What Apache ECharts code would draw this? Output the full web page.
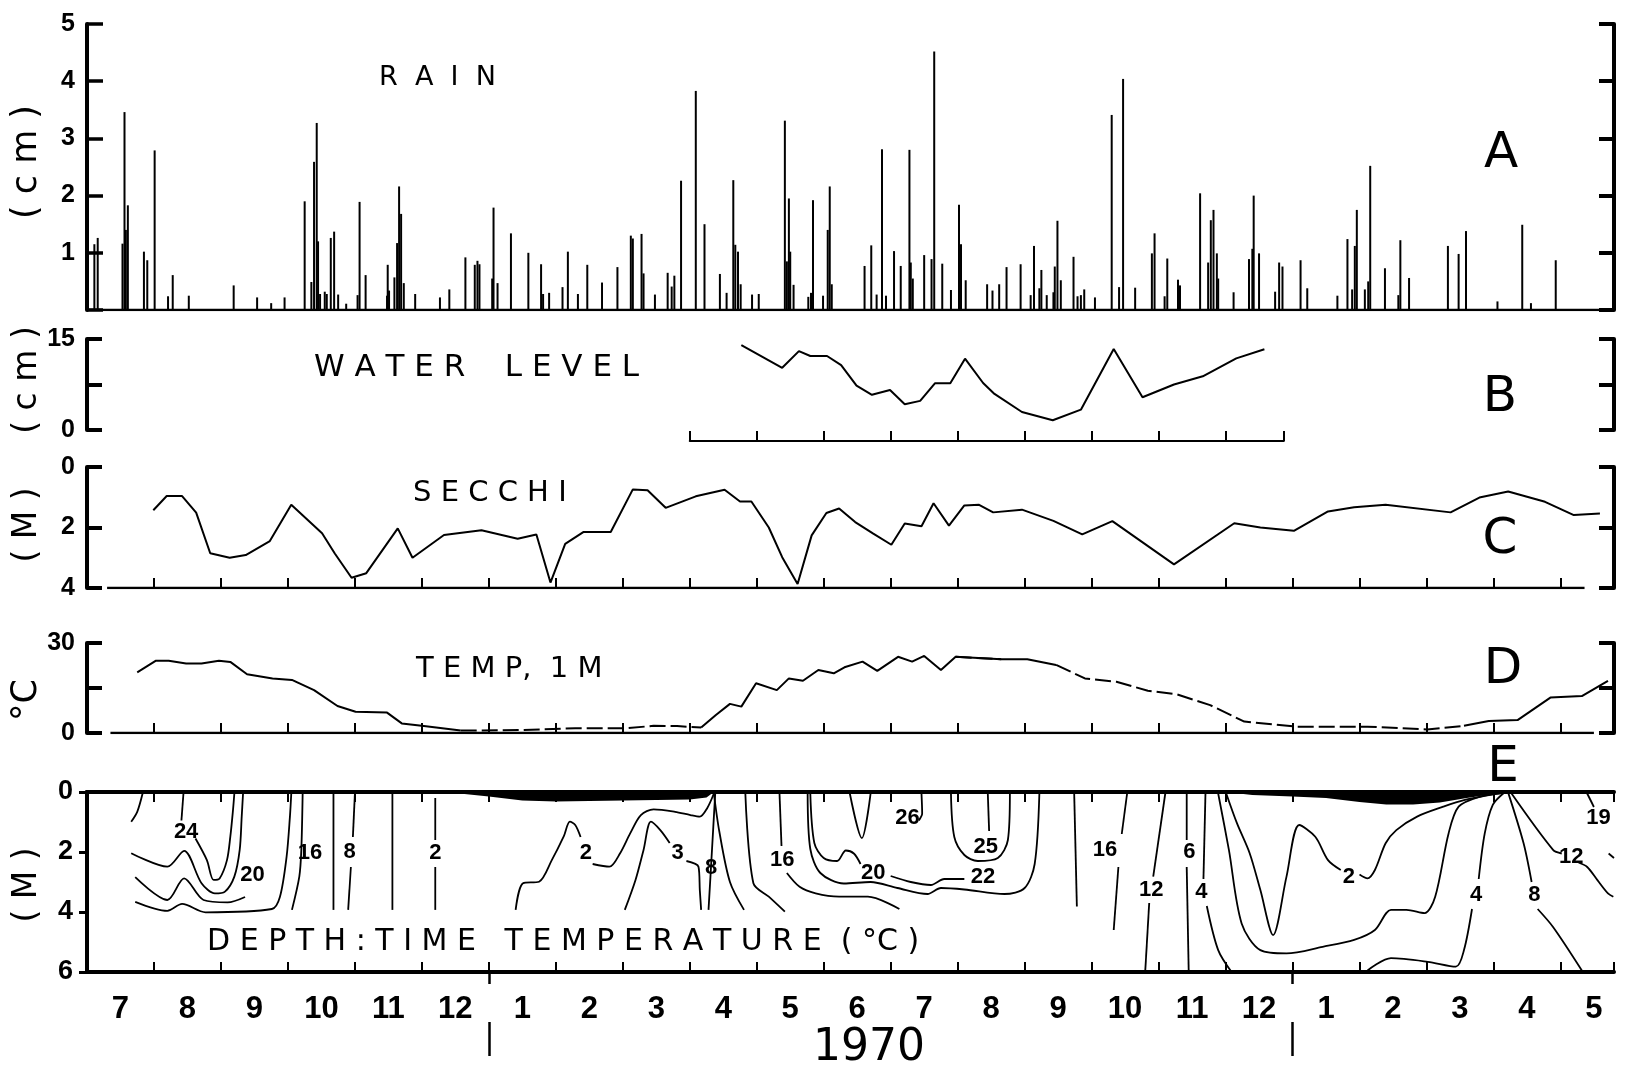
<!DOCTYPE html>
<html>
<head>
<meta charset="utf-8">
<script src="https://cdn.jsdelivr.net/npm/echarts@6/dist/echarts.min.js"></script>
<style>
html, body { margin: 0; padding: 0; background: #fff; }
#chart { width: 1628px; height: 1074px; }
</style>
</head>
<body>
<div id="chart"></div>
<script>
// Time is measured in months elapsed since 1 July 1969.
const monthLabels = ['7','8','9','10','11','12','1','2','3','4','5','6','7','8','9','10','11','12','1','2','3','4','5'];
const yearStarts = [6, 18];

// A: daily rain (cm)
const rainT = [0.11,0.16,0.53,0.56,0.58,0.61,0.85,0.90,1.01,1.21,1.28,1.52,2.19,2.54,2.75,2.95,3.25,3.35,3.39,3.43,3.45,3.48,3.55,3.58,3.64,3.69,3.75,3.87,4.04,4.07,4.16,4.48,4.49,4.51,4.59,4.63,4.66,4.69,4.73,4.90,5.27,5.41,5.65,5.79,5.83,5.86,6.05,6.07,6.13,6.33,6.59,6.78,6.81,6.90,7.10,7.18,7.33,7.47,7.69,7.92,8.12,8.15,8.28,8.31,8.48,8.67,8.73,8.77,8.87,9.09,9.22,9.45,9.55,9.65,9.68,9.72,9.76,9.93,10.03,10.42,10.45,10.48,10.50,10.55,10.77,10.81,10.84,10.99,11.06,11.09,11.12,11.61,11.71,11.79,11.87,11.93,12.05,12.15,12.28,12.30,12.33,12.50,12.61,12.65,12.77,12.90,13.02,13.05,13.12,13.44,13.52,13.62,13.73,13.94,14.09,14.14,14.22,14.25,14.33,14.43,14.45,14.49,14.54,14.73,14.79,14.84,14.89,15.05,15.30,15.41,15.47,15.65,15.90,15.94,16.09,16.13,16.29,16.32,16.62,16.74,16.78,16.82,16.87,16.89,17.12,17.35,17.40,17.42,17.50,17.74,17.80,17.85,18.12,18.22,18.67,18.82,18.89,18.93,18.96,19.08,19.13,19.16,19.38,19.58,19.61,19.74,20.32,20.48,20.59,21.06,21.43,21.56,21.93];
const rainCm = [1.15,1.26,1.16,3.46,1.40,1.83,1.02,0.87,2.79,0.24,0.61,0.25,0.43,0.22,0.12,0.22,1.90,0.49,2.59,3.27,1.20,0.28,0.32,0.28,1.26,1.37,0.27,0.11,0.26,1.89,0.61,0.25,0.79,0.34,0.57,1.17,2.16,1.68,0.47,0.28,0.22,0.36,0.92,0.79,0.86,0.80,0.55,1.79,0.47,1.34,1.00,0.80,0.28,0.30,0.40,1.02,0.28,0.79,0.48,0.75,1.30,1.25,1.33,0.64,0.27,0.65,0.41,0.60,2.26,3.83,1.50,0.63,0.30,2.27,1.14,1.02,0.45,0.27,0.28,3.31,0.85,1.95,1.02,0.44,0.23,0.30,1.92,0.25,1.40,2.16,0.45,0.77,1.13,0.27,2.81,0.25,1.03,0.77,2.80,0.83,0.55,0.96,0.89,4.52,0.81,0.35,1.84,1.15,0.52,0.45,0.34,0.45,0.75,0.80,0.26,1.12,0.38,0.70,0.26,0.31,0.76,1.56,0.52,0.93,0.24,0.26,0.36,0.22,3.41,0.40,4.04,0.39,0.99,1.34,0.24,0.90,0.53,0.43,2.04,0.83,1.57,1.75,0.99,0.55,0.31,0.89,1.07,2.00,0.99,0.32,0.83,0.76,0.87,0.38,0.25,1.24,0.36,1.12,1.75,0.36,0.50,2.52,0.73,0.26,1.22,0.56,1.12,0.98,1.38,0.15,1.49,0.12,0.87];

// B: water level (cm), gauge record period
const wlT  = [9.77,10.38,10.63,10.80,11.05,11.26,11.49,11.72,11.99,12.21,12.44,12.66,12.89,13.11,13.38,13.55,13.96,14.42,14.84,15.33,15.76,16.23,16.66,17.16,17.58];
const wlCm = [14.0,10.25,13.0,12.2,12.2,10.7,7.3,5.8,6.6,4.25,4.8,7.7,7.7,11.75,7.75,5.95,2.97,1.6,3.35,13.35,5.4,7.5,8.85,11.8,13.3];
const wlPeriod = [9, 17.87];

// C: Secchi depth (m)
const scT = [0.99,1.19,1.42,1.63,1.84,2.13,2.37,2.73,3.05,3.51,3.70,3.95,4.17,4.64,4.86,5.33,5.89,6.43,6.71,6.92,7.14,7.41,7.82,8.15,8.37,8.64,9.09,9.52,9.75,9.92,10.18,10.38,10.61,10.82,11.04,11.23,11.47,11.74,12.01,12.21,12.46,12.64,12.87,13.10,13.32,13.53,13.96,14.43,14.86,15.31,16.23,17.13,17.52,18.02,18.53,18.92,19.39,20.36,20.79,21.22,21.77,22.20,22.59];
const scM = [1.43,0.96,0.96,1.51,2.85,3.00,2.91,2.45,1.25,2.19,2.86,3.66,3.51,2.03,3.00,2.25,2.09,2.37,2.23,3.82,2.54,2.15,2.15,0.74,0.77,1.35,0.97,0.75,1.14,1.14,2.00,2.98,3.87,2.26,1.52,1.37,1.82,2.20,2.57,1.87,1.96,1.20,1.94,1.27,1.25,1.50,1.41,1.78,2.23,1.79,3.22,1.86,2.00,2.11,1.47,1.33,1.25,1.50,1.01,0.81,1.15,1.59,1.54];

// D: temperature at 1 m (deg C)
const tpT = [0.75,1.03,1.22,1.48,1.71,1.97,2.14,2.39,2.77,3.06,3.39,3.74,4.01,4.48,4.70,5.03,5.58,6.51,7.29,8.07,8.46,8.81,9.17,9.39,9.60,9.77,9.99,10.30,10.48,10.69,10.92,11.15,11.31,11.58,11.80,12.11,12.32,12.50,12.75,12.97,13.65,14.04,14.47,14.90,15.37,15.84,16.27,16.77,17.28,18.06,19.12,20.01,20.56,20.93,21.36,21.85,22.32,22.71];
const tpC = [20.2,24.1,24.1,23.2,23.2,24.1,23.7,19.6,18.2,17.7,14.3,9.0,7.1,6.8,3.2,2.3,0.8,1.0,1.6,1.6,2.4,2.3,1.8,6.0,9.7,8.8,16.6,14.3,18.2,17.4,21.0,19.9,21.9,23.8,20.7,25.4,23.8,25.7,21.0,25.4,24.6,24.6,22.7,18.2,17.1,14.1,12.9,9.3,3.8,2.1,2.1,1.2,2.4,4.0,4.3,11.8,12.3,17.4,19.0];
const tpDashed = [[5.5, 9.2], [12.9, 13.7], [14.4, 20.6]];

// E: ice cover thickness (m)
const ice70T = [5.2,5.6,6.0,6.5,7.0,7.5,8.0,8.5,9.0,9.25,9.36];
const ice70D = [0,0.06,0.15,0.28,0.32,0.30,0.28,0.27,0.25,0.18,0];
const ice71T = [17.0,17.4,18.0,18.5,19.0,19.4,19.8,20.2,20.6,20.9,21.2];
const ice71D = [0,0.10,0.15,0.20,0.33,0.42,0.42,0.35,0.20,0.10,0];

// E: isotherms, [month, depth m]
const iso1969a = [[0.66,0.99],[0.75,0.66],[0.83,0.05]];
const iso1969b = [[1.44,0.05],[1.41,0.95]];
const iso1969c = [[1.62,1.55],[1.79,2.27],[1.89,2.93],[1.98,2.88],[2.09,2.27],[2.14,1.49],[2.18,0.6],[2.2,0.05]];
const iso1969d = [[0.66,2.04],[1.2,2.49],[1.45,1.96],[1.71,3.04],[1.91,3.38],[2.06,3.32],[2.2,2.82],[2.28,1.93],[2.31,0.82],[2.33,0.05]];
const iso1969e = [[0.72,2.84],[1.2,3.6],[1.45,2.88],[1.74,3.6],[2.1,3.68],[2.36,3.5]];
const iso1969f = [[0.72,3.66],[1.2,3.96],[1.42,3.73],[1.77,4.01],[2.76,3.9],[2.88,3.5],[2.98,2.16],[3.03,0.82],[3.05,0.05]];
const iso1969g = [[3.06,3.93],[3.17,2.82],[3.2,1.93],[3.22,0.05]];
const iso1969h = [[3.68,3.93],[3.68,0.05]];
const iso1969i = [[3.9,3.93],[3.94,2.5]];
const iso1969j = [[3.97,1.5],[4.0,0.05]];
const iso1969k = [[4.56,3.93],[4.56,0.05]];
const iso1969l = [[5.2,3.93],[5.2,2.5]];
const iso1969m = [[5.2,1.6],[5.2,0.2]];
const iso1970a = [[6.4,3.93],[6.51,3.04],[6.75,2.99],[6.94,2.27],[7.12,1.47],[7.21,0.99],[7.29,1.1],[7.37,1.5]];
const iso1970b = [[7.55,2.4],[7.8,2.49],[7.96,2.04],[8.11,1.38],[8.27,0.77],[8.46,0.58],[8.78,0.66],[9.01,0.77],[9.15,0.82],[9.26,0.54],[9.36,0.05]];
const iso1970c = [[8.03,3.93],[8.19,2.93],[8.31,1.93],[8.42,0.99],[8.56,1.27],[8.7,1.7]];
const iso1970d = [[8.95,2.3],[9.13,2.49],[9.15,3.27],[9.17,3.93]];
const iso1970e = [[9.28,3.93],[9.33,2.0],[9.38,0.05]];
const iso1970f = [[9.36,0.05],[9.44,1.3],[9.6,3.0],[9.81,3.93]];
const iso1970g = [[9.83,0.05],[9.95,3.04],[10.18,3.49],[10.42,3.99]];
const iso1970h = [[10.34,0.05],[10.37,1.8]];
const iso1970i = [[10.45,2.7],[10.64,3.16],[10.88,3.38],[11.23,3.49],[11.66,3.49],[12.13,3.9]];
const iso1970j = [[10.76,0.05],[10.8,1.9],[10.95,2.7],[11.3,3.05],[11.7,3.0],[12.1,3.2],[12.55,3.4],[12.75,3.2],[13.1,3.25],[13.7,3.4],[14.0,3.2],[14.15,2.4],[14.22,0.05]];
const iso1970k = [[10.8,0.05],[10.86,1.7],[11.0,2.2],[11.2,2.3],[11.33,1.95],[11.45,2.05],[11.55,2.4]];
const iso1970l = [[11.39,0.05],[11.57,1.54],[11.7,0.05]];
const iso1970m = [[12.0,2.8],[12.3,3.0],[12.6,3.1],[12.8,2.9],[13.1,2.9]];
const iso1970n = [[12.9,0.05],[12.95,1.5],[13.1,2.1],[13.3,2.3],[13.6,2.2],[13.75,1.6],[13.78,0.05]];
const iso1970o = [[13.45,0.05],[13.47,1.3]];
const iso1970o2 = [[12.46,0.05],[12.47,0.72],[12.42,0.95]];
const iso1970p = [[14.74,0.05],[14.78,3.82]];
const iso1970q = [[15.53,0.05],[15.45,1.4]];
const iso1970r = [[15.4,2.5],[15.33,4.6]];
const iso1970s = [[16.1,0.05],[15.92,2.82]];
const iso1970t = [[15.86,3.7],[15.8,6.0]];
const iso1970u = [[16.42,0.05],[16.42,1.6]];
const iso1970v = [[16.42,2.5],[16.45,6.0]];
const iso1970w = [[16.7,0.05],[16.67,2.9]];
const iso1970x = [[16.72,3.8],[16.89,5.27],[17.09,6.0]];
const iso1971a = [[17.01,0.05],[17.17,1.04],[17.36,2.04],[17.52,3.27],[17.71,4.77],[17.91,2.82],[18.1,1.1],[18.34,1.49],[18.53,2.27],[18.72,2.6]];
const iso1971b = [[19.0,2.75],[19.12,2.88],[19.23,2.6],[19.39,1.71],[19.55,1.27],[19.86,0.82],[20.25,0.49],[20.56,0.27],[21.11,0.04]];
const iso1971c = [[16.89,0.05],[17.05,1.93],[17.24,4.38],[17.52,5.27],[17.91,5.38],[18.45,5.16],[18.92,4.93],[19.23,4.6],[19.47,3.93],[19.7,3.93],[19.97,4.04],[20.13,3.49],[20.33,1.38],[20.48,0.49],[20.79,0.16],[21.15,0.04]];
const iso1971d = [[19.12,5.95],[19.47,5.54],[20.02,5.66],[20.44,5.82],[20.56,5.27],[20.68,3.9]];
const iso1971e = [[20.78,2.9],[20.87,1.38],[20.99,0.43],[21.15,0.04]];
const iso1971f = [[21.22,0.02],[21.45,1.71],[21.57,3.0]];
const iso1971g = [[21.66,3.9],[21.89,4.5],[22.32,5.95]];
const iso1971h = [[21.26,0.02],[21.89,1.93],[22.02,2.05]];
const iso1971i = [[22.27,2.35],[22.4,2.5],[22.55,2.93],[22.71,3.38],[22.79,3.49]];
const iso1971j = [[22.4,0.05],[22.5,0.5]];
const iso1971k = [[22.72,2.05],[22.8,2.2]];
const isotherms = [iso1969a, iso1969b, iso1969c, iso1969d, iso1969e, iso1969f, iso1969g, iso1969h, iso1969i, iso1969j, iso1969k, iso1969l, iso1969m,
  iso1970a, iso1970b, iso1970c, iso1970d, iso1970e, iso1970f, iso1970g, iso1970h, iso1970i, iso1970j, iso1970k, iso1970l, iso1970m, iso1970n, iso1970o, iso1970o2,
  iso1970p, iso1970q, iso1970r, iso1970s, iso1970t, iso1970u, iso1970v, iso1970w, iso1970x,
  iso1971a, iso1971b, iso1971c, iso1971d, iso1971e, iso1971f, iso1971g, iso1971h, iso1971i, iso1971j, iso1971k];

// E: isotherm values, [month, depth m, deg C]
const isoLabels = [[1.48,1.32,'24'],[2.47,2.77,'20'],[3.33,2.04,'16'],[3.92,2.0,'8'],[5.2,2.04,'2'],
  [7.45,2.04,'2'],[8.82,2.04,'3'],[9.32,2.54,'8'],[10.38,2.27,'16'],[12.25,0.88,'26'],[13.42,1.82,'25'],
  [11.74,2.71,'20'],[13.38,2.82,'22'],[15.2,1.93,'16'],[15.89,3.27,'12'],[16.46,1.99,'6'],[16.64,3.32,'4'],
  [18.84,2.82,'2'],[20.74,3.43,'4'],[21.61,3.43,'8'],[22.16,2.16,'12'],[22.57,0.88,'19']];

// ---- layout ----
const TMAX = 22.8;
const LEFT = 87, WIDTH = 1527;
const PPM = WIDTH / TMAX;
const INK = '#000';
const NUM_FONT = "'Liberation Sans','Arial',sans-serif";
const TXT_FONT = "'DejaVu Sans','Liberation Sans',sans-serif";

const pairs = (xs, ys) => xs.map((x, i) => [x, ys[i]]);

function tempSegments(dashed) {
  const inDash = (a, b) => tpDashed.some(r => (a + b) / 2 >= r[0] && (a + b) / 2 <= r[1]);
  const out = tpT.map(() => null);
  for (let i = 0; i < tpT.length - 1; i++) {
    if (inDash(tpT[i], tpT[i + 1]) === dashed) {
      out[i] = [tpT[i], tpC[i]];
      out[i + 1] = [tpT[i + 1], tpC[i + 1]];
    }
  }
  return out.map(p => p === null ? [null, null] : p);
}

const bracket = (extra) => Object.assign({
  type: 'value',
  axisLine: { show: true, lineStyle: { color: INK, width: 4 } },
  axisTick: { show: true, inside: true, length: 15, lineStyle: { color: INK, width: 4 } },
  axisLabel: { show: false },
  splitLine: { show: false }
}, extra);

const tickLabel = { show: true, color: INK, fontFamily: NUM_FONT, fontWeight: 'bold', fontSize: 25, margin: 12 };

const timeAxis = (grid, extra) => Object.assign({
  type: 'value', gridIndex: grid, min: 0, max: TMAX, interval: 1,
  axisLine: { show: false, onZero: false },
  axisTick: { show: true, inside: true, length: 10, lineStyle: { color: INK, width: 2 } },
  axisLabel: { show: false },
  splitLine: { show: false }
}, extra);

const wlLeft = LEFT + wlPeriod[0] * PPM;
const wlWidth = (wlPeriod[1] - wlPeriod[0]) * PPM;

const text = (x, y, s, font, extra) => Object.assign({
  type: 'text', x: x, y: y, silent: true,
  style: { text: s, font: font, fill: INK, textAlign: 'left', textVerticalAlign: 'middle' }
}, extra || {});
const centered = (x, y, s, font, rot) => {
  const t = text(x, y, s, font, rot ? { rotation: rot } : {});
  t.style.textAlign = 'center';
  return t;
};

const option = {
  animation: false,
  backgroundColor: '#fff',
  grid: [
    { left: LEFT, width: WIDTH, top: 24, height: 286 },
    { left: wlLeft, width: wlWidth, top: 339, height: 91 },
    { left: LEFT, width: WIDTH, top: 467, height: 121 },
    { left: LEFT, width: WIDTH, top: 643, height: 90 },
    { left: LEFT, width: WIDTH, top: 792, height: 180 },
    { left: LEFT, width: PPM * monthLabels.length, top: 990, height: 1 },
    { left: LEFT, width: WIDTH, top: 972, height: 84 }
  ],
  xAxis: [
    timeAxis(0, { show: false }),
    { type: 'value', gridIndex: 1, min: wlPeriod[0], max: wlPeriod[1], interval: 1, offset: 11,
      axisLine: { show: true, onZero: false, lineStyle: { color: INK, width: 2 } },
      axisTick: { show: true, inside: true, length: 10, lineStyle: { color: INK, width: 2 } },
      axisLabel: { show: false }, splitLine: { show: false } },
    timeAxis(2),
    timeAxis(3),
    timeAxis(4, { position: 'bottom', axisLine: { show: true, onZero: false, lineStyle: { color: INK, width: 4 } } }),
    timeAxis(4, { position: 'top', axisLine: { show: true, onZero: false, lineStyle: { color: INK, width: 4 } } }),
    { type: 'category', gridIndex: 5, data: monthLabels, boundaryGap: true,
      axisLine: { show: false }, axisTick: { show: false },
      axisLabel: { show: true, color: INK, fontFamily: NUM_FONT, fontWeight: 'bold', fontSize: 31, margin: 3 } },
    timeAxis(6, { show: false })
  ],
  yAxis: [
    bracket({ gridIndex: 0, min: 0, max: 5, interval: 1, position: 'left',
      axisTick: { show: true, inside: true, length: 16, lineStyle: { color: INK, width: 3.5 } },
      axisLabel: Object.assign({}, tickLabel, { formatter: v => v === 0 ? '' : String(v) }) }),
    bracket({ gridIndex: 0, min: 0, max: 5, interval: 1, position: 'right' }),
    bracket({ gridIndex: 1, min: 0, max: 15, interval: 7.5, position: 'left', offset: wlLeft - LEFT,
      axisLabel: Object.assign({}, tickLabel, { formatter: v => v === 7.5 ? '' : String(v) }) }),
    bracket({ gridIndex: 1, min: 0, max: 15, interval: 7.5, position: 'right', offset: LEFT + WIDTH - wlLeft - wlWidth }),
    bracket({ gridIndex: 2, min: 0, max: 4, interval: 2, inverse: true, position: 'left', axisLabel: tickLabel }),
    bracket({ gridIndex: 2, min: 0, max: 4, interval: 2, inverse: true, position: 'right' }),
    bracket({ gridIndex: 3, min: 0, max: 30, interval: 15, position: 'left',
      axisLabel: Object.assign({}, tickLabel, { formatter: v => v === 15 ? '' : String(v) }) }),
    bracket({ gridIndex: 3, min: 0, max: 30, interval: 15, position: 'right' }),
    bracket({ gridIndex: 4, min: 0, max: 6, interval: 2, inverse: true, position: 'left',
      axisTick: { show: true, inside: false, length: 8, lineStyle: { color: INK, width: 3 } },
      axisLabel: Object.assign({}, tickLabel, { fontSize: 27, margin: 14 }) }),
    bracket({ gridIndex: 4, min: 0, max: 6, interval: 2, inverse: true, position: 'right',
      axisTick: { show: true, inside: true, length: 8, lineStyle: { color: INK, width: 3 } } }),
    { type: 'value', gridIndex: 5, show: false },
    { type: 'value', gridIndex: 6, min: 0, max: 84, inverse: true, show: false }
  ],
  series: [
    { type: 'bar', xAxisIndex: 0, yAxisIndex: 0, barWidth: 2, data: pairs(rainT, rainCm),
      itemStyle: { color: INK } },
    { type: 'line', xAxisIndex: 0, yAxisIndex: 0, symbol: 'none', data: [[0, 0], [22.6, 0]],
      lineStyle: { color: INK, width: 2.5 } },
    { type: 'line', xAxisIndex: 1, yAxisIndex: 2, symbol: 'none', data: pairs(wlT, wlCm),
      lineStyle: { color: INK, width: 2 } },
    { type: 'line', xAxisIndex: 2, yAxisIndex: 4, symbol: 'none', data: pairs(scT, scM),
      lineStyle: { color: INK, width: 2 } },
    { type: 'line', xAxisIndex: 2, yAxisIndex: 4, symbol: 'none', data: [[0.3, 4], [22.36, 4]],
      lineStyle: { color: INK, width: 2.5 } },
    { type: 'line', xAxisIndex: 3, yAxisIndex: 6, symbol: 'none', data: tempSegments(false),
      connectNulls: false, lineStyle: { color: INK, width: 2 } },
    { type: 'line', xAxisIndex: 3, yAxisIndex: 6, symbol: 'none', data: tempSegments(true),
      connectNulls: false, lineStyle: { color: INK, width: 2, type: [16, 5] } },
    { type: 'line', xAxisIndex: 3, yAxisIndex: 6, symbol: 'none', data: [[0.35, 0], [22.5, 0]],
      lineStyle: { color: INK, width: 2.5 } },
    { type: 'line', xAxisIndex: 4, yAxisIndex: 8, symbol: 'none', data: pairs(ice70T, ice70D),
      lineStyle: { width: 0 }, areaStyle: { color: INK, opacity: 1, origin: 'start' } },
    { type: 'line', xAxisIndex: 4, yAxisIndex: 8, symbol: 'none', data: pairs(ice71T, ice71D),
      lineStyle: { width: 0 }, areaStyle: { color: INK, opacity: 1, origin: 'start' } },
    ...isotherms.map(iso => ({
      type: 'line', xAxisIndex: 4, yAxisIndex: 8, symbol: 'none', smooth: 0.3, data: iso,
      lineStyle: { color: INK, width: 1.8 }
    })),
    { type: 'scatter', xAxisIndex: 4, yAxisIndex: 8, symbolSize: 1, data: isoLabels,
      itemStyle: { color: 'transparent', opacity: 1 },
      label: { show: true, position: 'inside', formatter: p => p.data[2], color: INK, opacity: 1,
        fontFamily: NUM_FONT, fontWeight: 'bold', fontSize: 22, backgroundColor: '#fff', padding: [0, 1] } },
    { type: 'lines', coordinateSystem: 'cartesian2d', xAxisIndex: 7, yAxisIndex: 11, polyline: false,
      data: yearStarts.flatMap(t => [{ coords: [[t, 0], [t, 12]] }, { coords: [[t, 50], [t, 84]] }]),
      lineStyle: { color: INK, width: 2.5, opacity: 1 } }
  ],
  graphic: [
    text(379, 78, 'R  A  I  N', '27px ' + TXT_FONT),
    text(314, 368, 'W A T E R    L E V E L', '31px ' + TXT_FONT),
    text(413, 493, 'S E C C H I', '29px ' + TXT_FONT),
    text(416, 669, 'T E M P,  1 M', '29px ' + TXT_FONT),
    text(207, 942, 'D E P T H : T I M E   T E M P E R A T U R E  ( °C )', '30px ' + TXT_FONT),
    centered(1501, 154, 'A', '50px ' + TXT_FONT),
    centered(1500, 398, 'B', '50px ' + TXT_FONT),
    centered(1500, 540, 'C', '50px ' + TXT_FONT),
    centered(1503, 670, 'D', '50px ' + TXT_FONT),
    centered(1503, 768, 'E', '50px ' + TXT_FONT),
    centered(869, 1049, '1970', '44px ' + TXT_FONT),
    centered(27, 162, '( c m )', '35px ' + TXT_FONT, Math.PI / 2),
    centered(27, 380, '( c m )', '33px ' + TXT_FONT, Math.PI / 2),
    centered(27, 525, '( M )', '33px ' + TXT_FONT, Math.PI / 2),
    centered(27, 700, '°C', '35px ' + TXT_FONT, Math.PI / 2),
    centered(27, 885, '( M )', '33px ' + TXT_FONT, Math.PI / 2)
  ]
};

const chart = echarts.init(document.getElementById('chart'), null, { renderer: 'canvas' });
chart.setOption(option);
</script>
</body>
</html>
